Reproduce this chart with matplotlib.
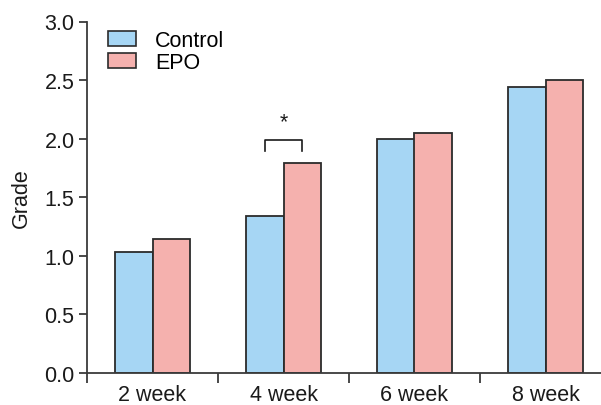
import matplotlib
matplotlib.use("Agg")
import matplotlib.pyplot as plt
from matplotlib.patches import Patch
import numpy as np

plt.rcParams['font.family'] = ['Liberation Sans', 'DejaVu Sans']

categories = ["2 week", "4 week", "6 week", "8 week"]
control = [1.03, 1.34, 2.00, 2.44]
epo = [1.14, 1.79, 2.05, 2.50]
y_ticks = [0.0, 0.5, 1.0, 1.5, 2.0, 2.5, 3.0]

blue = "#a6d6f4"
pink = "#f5b1ae"
edge = "#2b2b2b"
axis_col = "#3a3a3a"
fs = 15.5

W, H = 601, 406
fig = plt.figure(figsize=(W / 100, H / 100), dpi=100)
left, right = 87, 611
bottom, top = 374, 22.5
ax = fig.add_axes([left / W, (H - bottom) / H, (right - left) / W, (bottom - top) / H])

x = np.arange(len(categories))
bw = 0.286
ax.bar(x - bw / 2, control, width=bw, color=blue, edgecolor=edge, linewidth=1.3, label="Control")
ax.bar(x + bw / 2, epo, width=bw, color=pink, edgecolor=edge, linewidth=1.3, label="EPO")

ax.set_xlim(-0.5, 3.5)
ax.set_ylim(0, 3.0)
ax.set_yticks(y_ticks)
ax.set_yticklabels([f"{v:.1f}" for v in y_ticks])
ax.set_xticks(x)
ax.set_xticklabels(categories)
ax.set_xticks([-0.5, 0.5, 1.5, 2.5], minor=True)
ax.tick_params(axis='x', which='major', length=0, pad=8, labelsize=fs, colors='#1a1a1a')
ax.tick_params(axis='x', which='minor', length=7, width=1.3, color=axis_col)
ax.tick_params(axis='y', length=6, width=1.3, color=axis_col, labelsize=fs, labelcolor='#1a1a1a', pad=3)

for s in ["top", "right"]:
    ax.spines[s].set_visible(False)
for s in ["left", "bottom"]:
    ax.spines[s].set_color(axis_col)
    ax.spines[s].set_linewidth(1.3)

ax.set_ylabel("Grade", fontsize=fs, color='#1a1a1a', labelpad=9)

# significance bracket between the 4 week bars
i = 1
x1, x2 = i - bw / 2, i + bw / 2
yb, yt = 1.895, 1.985
ax.plot([x1, x1, x2, x2], [yb, yt, yt, yb], color='#1a1a1a', lw=1.2, clip_on=False)
ax.text(i, yt + 0.07, "*", ha='center', va='bottom', fontsize=fs, color='#1a1a1a')

handles = [Patch(facecolor=blue, edgecolor=edge, linewidth=1.2, label="Control"),
           Patch(facecolor=pink, edgecolor=edge, linewidth=1.2, label="EPO")]
ax.legend(handles=handles, loc='upper left',
          bbox_to_anchor=(108 / W, (H - 31) / H), bbox_transform=fig.transFigure,
          frameon=False, fontsize=fs, handlelength=1.3, handleheight=0.7,
          handletextpad=0.9, labelspacing=0.05, borderaxespad=0, borderpad=0)

fig.savefig("out.png", dpi=100)
